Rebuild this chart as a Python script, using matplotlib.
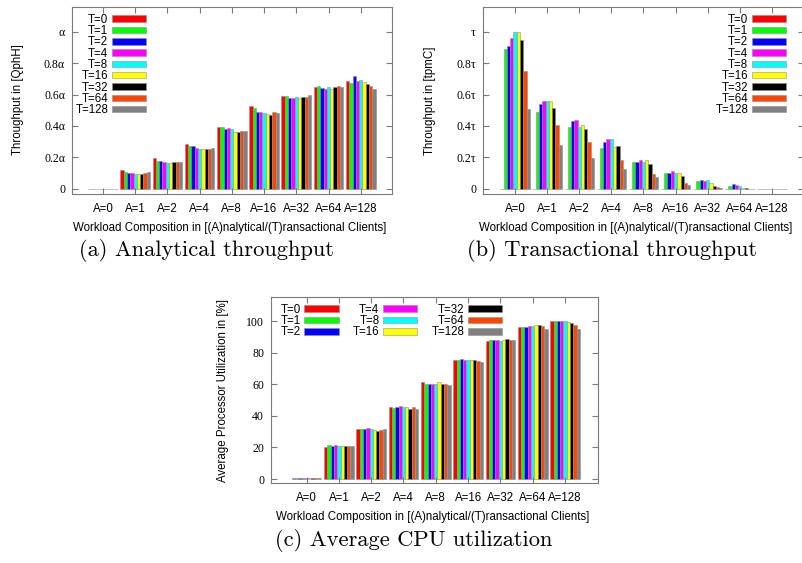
import numpy as np
import matplotlib
matplotlib.use("Agg")
import matplotlib.pyplot as plt

# ---- data ----
workloads = ["A=0", "A=1", "A=2", "A=4", "A=8", "A=16", "A=32", "A=64", "A=128"]
tx_clients = ["T=0", "T=1", "T=2", "T=4", "T=8", "T=16", "T=32", "T=64", "T=128"]

# analytical throughput, fraction of alpha; one row per workload, one value per T
analytical_tp = [
    [0.0, 0.0, 0.0, 0.0, 0.0, 0.0, 0.0, 0.0, 0.0],
    [0.123, 0.106, 0.100, 0.099, 0.097, 0.097, 0.097, 0.100, 0.105],
    [0.199, 0.180, 0.178, 0.173, 0.165, 0.165, 0.171, 0.171, 0.171],
    [0.288, 0.275, 0.270, 0.260, 0.256, 0.256, 0.256, 0.256, 0.262],
    [0.395, 0.393, 0.378, 0.387, 0.380, 0.362, 0.362, 0.368, 0.368],
    [0.529, 0.514, 0.490, 0.488, 0.482, 0.476, 0.469, 0.486, 0.482],
    [0.592, 0.588, 0.581, 0.579, 0.583, 0.581, 0.586, 0.586, 0.594],
    [0.649, 0.655, 0.641, 0.636, 0.647, 0.634, 0.649, 0.655, 0.647],
    [0.687, 0.672, 0.717, 0.687, 0.693, 0.681, 0.666, 0.653, 0.636],
]

# transactional throughput, fraction of tau
transactional_tp = [
    [0.0, 0.890, 0.911, 0.958, 1.000, 0.998, 0.947, 0.750, 0.510],
    [0.0, 0.486, 0.539, 0.560, 0.560, 0.556, 0.514, 0.406, 0.279],
    [0.0, 0.393, 0.429, 0.440, 0.393, 0.408, 0.383, 0.296, 0.197],
    [0.0, 0.262, 0.296, 0.317, 0.317, 0.266, 0.273, 0.186, 0.129],
    [0.0, 0.171, 0.171, 0.184, 0.171, 0.182, 0.161, 0.095, 0.076],
    [0.0, 0.101, 0.101, 0.112, 0.101, 0.099, 0.082, 0.038, 0.027],
    [0.0, 0.051, 0.059, 0.051, 0.057, 0.040, 0.021, 0.013, 0.005],
    [0.0, 0.021, 0.030, 0.027, 0.021, 0.008, 0.003, 0.002, 0.001],
    [0.0, 0.0, 0.0, 0.0, 0.0, 0.0, 0.0, 0.0, 0.0],
]

# average processor utilization in %
cpu_util = [
    [0.5, 0.8, 0.8, 0.8, 0.8, 0.8, 0.8, 0.8, 0.8],
    [20.0, 21.5, 21.1, 21.5, 20.6, 20.6, 20.6, 20.6, 20.6],
    [31.4, 31.4, 31.6, 32.0, 31.4, 31.0, 30.3, 31.0, 31.4],
    [45.7, 44.8, 45.3, 46.5, 45.5, 45.5, 44.6, 45.5, 44.4],
    [61.1, 60.4, 60.4, 60.4, 60.4, 61.1, 60.4, 60.0, 59.8],
    [75.2, 75.2, 76.2, 75.6, 75.6, 75.6, 75.2, 74.9, 74.3],
    [87.4, 87.8, 87.8, 88.2, 87.6, 87.8, 88.4, 87.8, 88.2],
    [96.4, 96.4, 96.2, 96.6, 96.8, 97.5, 97.3, 96.6, 95.2],
    [99.8, 99.8, 99.8, 99.8, 99.8, 99.4, 98.7, 97.7, 94.7],
]

# ---- style ----
colors = ["#ff0000", "#00ff00", "#0000ff", "#ff00ff", "#00ffff",
          "#ffff00", "#000000", "#ff4500", "#808080"]
frame_col = "#7a7a7a"
sans = "Liberation Sans"
serif = "Liberation Serif"

W, H = 803, 563
fig = plt.figure(figsize=(W / 100, H / 100), dpi=100)


def add_axes_px(left, top, right, bottom):
    return fig.add_axes([left / W, 1 - bottom / H, (right - left) / W, (bottom - top) / H])


def draw_bars(ax, values):
    vals = np.array(values)
    x = np.arange(len(workloads))
    w = 0.102
    for j in range(len(tx_clients)):
        ax.bar(x + (j - 4) * w, vals[:, j], w, color=colors[j],
               edgecolor="#909090", linewidth=0.4, label=tx_clients[j])
    ax.set_xticks(x)
    ax.set_xticklabels(workloads, fontfamily=sans, fontsize=8.3)
    for s in ax.spines.values():
        s.set_color(frame_col)
        s.set_linewidth(0.8)
    ax.tick_params(direction="in", length=4, width=0.8, color=frame_col,
                   top=True, right=True)
    ax.tick_params(axis="x", pad=6.5)
    ax.tick_params(axis="y", pad=5)


def add_legend(ax, x, y, ncol=1, colsp=1.0):
    ax.legend(loc="upper right", bbox_to_anchor=(x / W, 1 - y / H), bbox_transform=fig.transFigure,
              ncol=ncol, markerfirst=False, frameon=False, handlelength=3.0, handleheight=0.5,
              handletextpad=0.3, labelspacing=-0.06, borderpad=0, columnspacing=colsp,
              prop={"family": sans, "size": 8.3})


def px_text(x, y, s, **kw):
    fig.text(x / W, 1 - y / H, s, **kw)


# (a) analytical throughput
ax1 = add_axes_px(72, 7, 392, 194)
draw_bars(ax1, analytical_tp)
ax1.set_xlim(-0.96, 8.97)
ax1.set_ylim(-0.032, 1.156)
ax1.set_yticks([0, 0.2, 0.4, 0.6, 0.8, 1.0])
ax1.set_yticklabels(["0", "0.2α", "0.4α", "0.6α", "0.8α", "α"], fontfamily=serif, fontsize=8.5)
add_legend(ax1, 152, 8)

# (b) transactional throughput
ax2 = add_axes_px(483, 7, 804, 194)
draw_bars(ax2, transactional_tp)
ax2.set_xlim(-1, 9)
ax2.set_ylim(-0.032, 1.156)
ax2.set_yticks([0, 0.2, 0.4, 0.6, 0.8, 1.0])
ax2.set_yticklabels(["0", "0.2τ", "0.4τ", "0.6τ", "0.8τ", "τ"], fontfamily=serif, fontsize=8.5)
add_legend(ax2, 792, 8)

# (c) cpu utilization
ax3 = add_axes_px(271, 297, 598, 483)
draw_bars(ax3, cpu_util)
ax3.set_xlim(-1.1, 9.02)
ax3.set_ylim(-2.5, 115.2)
ax3.set_yticks([0, 20, 40, 60, 80, 100])
ax3.set_yticklabels(["0", "20", "40", "60", "80", "100"], fontfamily=serif, fontsize=8.5)
add_legend(ax3, 508, 298, ncol=3, colsp=1.2)

# axis labels
lab = dict(fontfamily=sans, fontsize=8.3, ha="center", va="center")
px_text(18, 100, "Throughput in [QphH]", rotation=90, **lab)
px_text(430, 101, "Throughput in [tpmC]", rotation=90, **lab)
px_text(223, 390, "Average Processor Utilization in [%]", rotation=90, **lab)
xl = "Workload Composition in [(A)nalytical/(T)ransactional Clients]"
px_text(230, 228, xl, **lab)
px_text(479, 228, xl, fontfamily=sans, fontsize=8.3, ha="left", va="center")
px_text(433, 517, xl, **lab)

# captions
cap = dict(fontfamily="cmr10", fontsize=16.2, ha="center", va="center")
px_text(206, 250, "(a) Analytical throughput", **cap)
px_text(612, 250, "(b) Transactional throughput", **cap)
px_text(414, 540, "(c) Average CPU utilization", **cap)

fig.savefig("out.png", dpi=100)
